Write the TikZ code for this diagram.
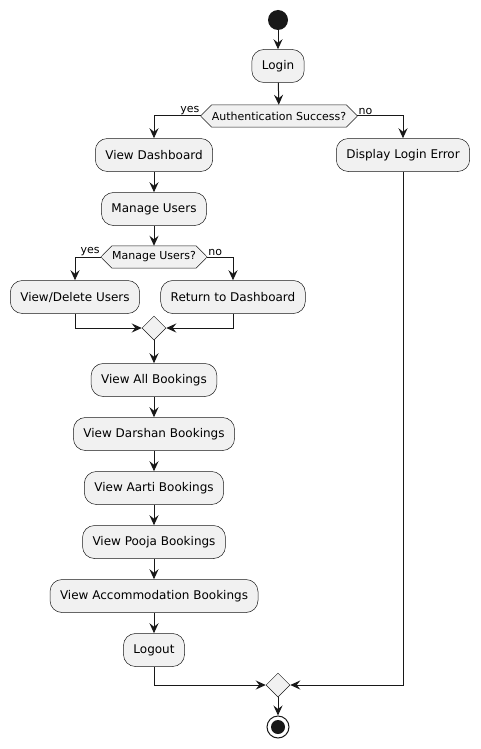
\documentclass[tikz,border=0pt]{standalone}
\usepackage{fontspec}
\setmainfont{DejaVu Sans}
\usetikzlibrary{arrows.meta,backgrounds,calc,shapes.geometric}
\definecolor{boxfill}{HTML}{F1F1F1}
\definecolor{linecol}{HTML}{181818}
\tikzset{
  action/.style={draw=linecol, fill=boxfill, rounded corners=12pt, minimum height=33pt, inner xsep=10pt, inner ysep=0pt, line width=0.5pt, font=\fontsize{12}{14}\selectfont},
  decide/.style={minimum height=22pt, inner xsep=11pt, inner ysep=0pt, font=\fontsize{11}{13}\selectfont},
  merge/.style={diamond, draw=linecol, fill=boxfill, minimum width=24pt, minimum height=24pt, inner sep=0pt, line width=0.5pt},
  flow/.style={draw=linecol, line width=1pt, -{Stealth[length=10pt,width=9pt,inset=3.5pt]}},
  lbl/.style={font=\fontsize{11}{13}\selectfont, inner sep=1pt},
}
\newcommand{\hexframe}[1]{%
  \begin{scope}[on background layer]
  \draw[draw=linecol, fill=boxfill, line width=0.5pt] (#1.west) -- ($(#1.north west)+(11,0)$) -- ($(#1.north east)+(-11,0)$) -- (#1.east) -- ($(#1.south east)+(-11,0)$) -- ($(#1.south west)+(11,0)$) -- cycle;
  \end{scope}}
\begin{document}
\begin{tikzpicture}[x=1pt,y=-1pt]
\useasboundingbox (0,0) rectangle (480,749);
% start and login
\node[circle, fill=linecol, minimum size=20pt, inner sep=0pt] (start) at (278,20) {};
\node[action] (login) at (278,66) {Login};
\node[decide] (auth) at (279,116) {Authentication Success?};
\hexframe{auth}
\draw[flow] (start) -- (login);
\draw[flow] (login) -- (auth);
% branches
\node[action] (dash) at (154,155) {View Dashboard};
\node[action] (err) at (403,155) {Display Login Error};
\draw[flow] (auth.west) -| (dash);
\draw[flow] (auth.east) -| (err);
\node[lbl, anchor=south east] at (auth.west) {yes};
\node[lbl, anchor=south west] at (auth.east) {no};
\node[action] (manage) at (154,209) {Manage Users};
\draw[flow] (dash) -- (manage);
\node[decide] (ask) at (154,257) {Manage Users?};
\hexframe{ask}
\draw[flow] (manage) -- (ask);
\node[action] (del) at (75,297) {View/Delete Users};
\node[action] (back) at (233,297) {Return to Dashboard};
\draw[flow] (ask.west) -| (del);
\draw[flow] (ask.east) -| (back);
\node[lbl, anchor=south east] at (ask.west) {yes};
\node[lbl, anchor=south west] at (ask.east) {no};
\node[merge] (join1) at (154,328) {};
\draw[flow] (del) |- (join1);
\draw[flow] (back) |- (join1);
% bookings
\node[action] (all) at (154,380) {View All Bookings};
\node[action] (darshan) at (154,434) {View Darshan Bookings};
\node[action] (aarti) at (154,488) {View Aarti Bookings};
\node[action] (pooja) at (154,542) {View Pooja Bookings};
\node[action] (accom) at (154,596) {View Accommodation Bookings};
\node[action] (logout) at (154,650) {Logout};
\draw[flow] (join1) -- (all);
\draw[flow] (all) -- (darshan);
\draw[flow] (darshan) -- (aarti);
\draw[flow] (aarti) -- (pooja);
\draw[flow] (pooja) -- (accom);
\draw[flow] (accom) -- (logout);
% end
\node[merge] (join2) at (278,685) {};
\draw[flow] (logout) |- (join2);
\draw[flow] (err) |- (join2);
\node[circle, draw=linecol, fill=white, line width=1pt, minimum size=22pt, inner sep=0pt] (stop) at (278,727) {};
\fill[linecol] (stop) circle (7pt);
\draw[flow] (join2) -- (stop);
\end{tikzpicture}
\end{document}
